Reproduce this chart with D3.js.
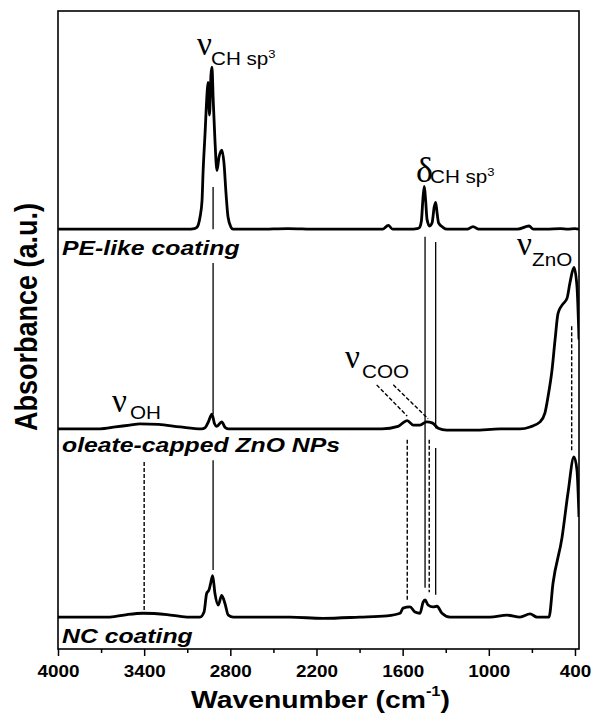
<!DOCTYPE html>
<html>
<head>
<meta charset="utf-8">
<script src="https://cdn.jsdelivr.net/npm/d3@7"></script>
<style>
  body { margin: 0; background: #fff; }
  text { font-family: "Liberation Sans", Arial, sans-serif; fill: #000; }
</style>
</head>
<body>
<svg id="ftir" width="592" height="717"></svg>
<script>
// FTIR spectra, stacked with offsets (a.u.)
var peWn  = [4000, 3800, 3600, 3400, 3200, 3100, 3050, 3032, 3011, 2997, 2990, 2976, 2962, 2955, 2945, 2935, 2928, 2919, 2907, 2893, 2879, 2858, 2844, 2830, 2816, 2795, 2781,
             2600, 2400, 2200, 2000, 1800, 1740, 1700, 1670, 1550, 1500, 1485, 1470, 1458, 1449, 1440, 1430, 1412, 1395, 1380, 1370, 1360, 1350, 1320, 1290,
             1150, 1110, 1070, 900, 800, 720, 690, 600, 500, 450, 400, 372];
var peAbs = [0, 0, 0, 0, 0, 0, 0.01, 0.03, 0.19, 0.45, 0.88, 1.50, 2.13, 2.30, 1.79, 2.41, 2.54, 2.02, 1.39, 0.92, 1.13, 1.24, 1.03, 0.56, 0.19, 0.03, 0,
             0, 0.01, 0, 0, 0, 0, 0.06, 0, 0, 0.01, 0.02, 0.12, 0.50, 0.67, 0.45, 0.15, 0.05, 0.10, 0.35, 0.42, 0.25, 0.10, 0.03, 0,
             0, 0.04, 0, 0, 0, 0.05, 0, 0, 0.01, 0, 0.01, 0];

var oleWn  = [4000, 3850, 3707, 3600, 3500, 3430, 3300, 3150, 3000, 2975, 2955, 2928, 2910, 2895, 2860, 2835, 2810,
              2500, 2200, 1900, 1744, 1632, 1600, 1568, 1526, 1479, 1433, 1391, 1352, 1294, 1100, 922,
              783, 713, 643, 609, 588, 560, 539, 518, 490, 455, 435, 407, 386, 372];
var oleAbs = [0, 0, 0, 0.03, 0.06, 0.08, 0.07, 0.03, 0, 0.02, 0.10, 0.23, 0.08, 0.04, 0.11, 0.02, 0,
              0, 0, 0, 0, 0.04, 0.09, 0.13, 0.06, 0.06, 0.11, 0.09, 0.01, -0.02, -0.02, 0,
              0, 0.03, 0.11, 0.25, 0.50, 0.92, 1.39, 1.81, 1.94, 2.05, 2.29, 2.53, 2.23, 1.40];

var ncWn  = [4000, 3800, 3638, 3520, 3408, 3241, 3102, 3011, 2983, 2965, 2948, 2937, 2923, 2907, 2884, 2860, 2837, 2814, 2779,
             2384, 2155, 1900, 1709, 1618, 1597, 1549, 1514, 1479, 1458, 1444, 1423, 1389, 1361, 1326, 1270,
             992, 873, 783, 713, 664, 581, 553, 490, 449, 407, 386, 372];
var ncAbs = [0, 0, 0, 0.04, 0.06, 0.04, 0, 0, 0.08, 0.37, 0.43, 0.53, 0.65, 0.37, 0.19, 0.34, 0.21, 0.03, 0,
             0, -0.02, 0, 0.02, 0.06, 0.14, 0.16, 0.08, 0.06, 0.23, 0.27, 0.19, 0.16, 0.17, 0.06, 0,
             0, 0.03, 0, 0.05, 0, 0, 0.53, 1.25, 1.94, 2.51, 2.30, 1.57];

var sampleNames   = ["PE-like coating", "oleate-capped ZnO NPs", "NC coating"];
var sampleOffsets = [6.58, 3.45, 0.50];
var sampleLabelY  = [6.18, 3.08, 0.10];

var majorTicks = [4000, 3400, 2800, 2200, 1600, 1000, 400];
var minorTicks = [3700, 3100, 2500, 1900, 1300, 700];

// band guide lines: wavenumber, from, to (a.u.)
var solidGuides  = [[2920, 7.24, 6.58], [2920, 6.05, 3.68], [2920, 2.96, 1.24],
                    [1444, 6.46, 0.96],
                    [1370, 6.38, 3.46], [1370, 3.15, 0.85]];
var dashedGuides = [[3400, 2.93, 0.61], [1568, 3.28, 0.77], [1415, 3.28, 0.89], [423, 5.06, 3.09]];
// slanted dashed pointers of the COO label: [wn1, y1, wn2, y2]
var cooPointers  = [[1781, 4.14, 1568, 3.65], [1665, 4.14, 1423, 3.61]];

var bandSym  = ["\u03BD", "\u03B4", "\u03BD", "\u03BD", "\u03BD"];
var bandSub  = ["CH sp", "CH sp", "ZnO", "COO", "OH"];
var bandSup  = ["3", "3", "", "", ""];
var bandWn   = [3032, 1507, 803, 2001, 3624];
var bandY    = [9.31, 7.32, 6.18, 4.40, 3.71];

var sx = 1.18;   // the reference lettering is a bit wide

var svg = d3.select("svg#ftir");
var margin = {top: 11, right: 13, bottom: 68, left: 58},
    width = +svg.attr("width") - margin.left - margin.right,
    height = +svg.attr("height") - margin.top - margin.bottom;
var g = svg.append("g").attr("transform", "translate(" + margin.left + "," + margin.top + ")");

var x = d3.scaleLinear().domain([4000, 372]).range([0, width]);
var y = d3.scaleLinear().domain([0, 10]).range([height, 0]);

g.append("clipPath").attr("id", "plotclip")
    .append("rect").attr("width", width).attr("height", height);

// guides first, spectra go over them
solidGuides.forEach(function (d) {
    g.append("line")
        .attr("x1", x(d[0])).attr("x2", x(d[0]))
        .attr("y1", y(d[1])).attr("y2", y(d[2]))
        .attr("stroke", "#000").attr("stroke-width", 1.3);
});
dashedGuides.forEach(function (d) {
    g.append("line")
        .attr("x1", x(d[0])).attr("x2", x(d[0]))
        .attr("y1", y(d[1])).attr("y2", y(d[2]))
        .attr("stroke", "#000").attr("stroke-width", 1.4)
        .attr("stroke-dasharray", "4,2");
});
cooPointers.forEach(function (d) {
    g.append("line")
        .attr("x1", x(d[0])).attr("y1", y(d[1]))
        .attr("x2", x(d[2])).attr("y2", y(d[3]))
        .attr("stroke", "#000").attr("stroke-width", 1.4)
        .attr("stroke-dasharray", "4,2");
});

var line = d3.line()
    .x(function (d) { return x(d[0]); })
    .y(function (d) { return y(d[1]); })
    .curve(d3.curveMonotoneX);

function spectrum(wn, abs, off) {
    var pts = wn.map(function (w, i) { return [w, abs[i] + off]; });
    g.append("path")
        .datum(pts)
        .attr("clip-path", "url(#plotclip)")
        .attr("fill", "none")
        .attr("stroke", "#000")
        .attr("stroke-width", 2.8)
        .attr("stroke-linejoin", "round")
        .attr("d", line);
}
spectrum(peWn, peAbs, sampleOffsets[0]);
spectrum(oleWn, oleAbs, sampleOffsets[1]);
spectrum(ncWn, ncAbs, sampleOffsets[2]);

// frame
g.append("rect")
    .attr("width", width).attr("height", height)
    .attr("fill", "none").attr("stroke", "#000").attr("stroke-width", 1.6);

// bottom axis
var ax = g.append("g")
    .attr("transform", "translate(0," + height + ")")
    .call(d3.axisBottom(x).tickValues(majorTicks).tickSize(7).tickFormat(d3.format("d")));
ax.select(".domain").remove();
ax.selectAll("line").attr("stroke-width", 1.5);
ax.selectAll("text")
    .attr("y", 28).attr("dy", null)
    .attr("transform", "scale(" + sx + ",1)")
    .style("font-family", "'Liberation Sans', Arial, sans-serif")
    .style("font-size", "16px")
    .style("font-weight", "bold");

var axm = g.append("g")
    .attr("transform", "translate(0," + height + ")")
    .call(d3.axisBottom(x).tickValues(minorTicks).tickSize(4).tickFormat(""));
axm.select(".domain").remove();
axm.selectAll("line").attr("stroke-width", 1.5);

// sample names
sampleNames.forEach(function (name, i) {
    g.append("text")
        .attr("transform", "translate(" + x(3972) + "," + y(sampleLabelY[i]) + ") scale(" + sx + ",1)")
        .style("font-size", "21px")
        .style("font-weight", "bold")
        .style("font-style", "italic")
        .text(name);
});

// band labels
var subDx = [14, 14, 15, 17, 18],
    subDy = [10, 1, 11, 10, 7];
bandSym.forEach(function (s, i) {
    var px = x(bandWn[i]), py = y(bandY[i]);
    g.append("text")
        .attr("x", px).attr("y", py)
        .style("font-family", "'Liberation Serif', 'Times New Roman', serif")
        .style("font-size", s === "\u03B4" ? "36px" : "33px")
        .text(s);
    var t = g.append("text")
        .attr("transform", "translate(" + (px + subDx[i]) + "," + (py + subDy[i]) + ") scale(" + sx + ",1)")
        .style("font-size", "17.5px")
        .text(bandSub[i]);
    if (bandSup[i]) {
        t.append("tspan").attr("dy", -7).style("font-size", "11px").text(bandSup[i]);
    }
});

// axis titles
var xt = svg.append("text")
    .attr("transform", "translate(" + (margin.left + width / 2 + 2) + ",708) scale(" + sx + ",1)")
    .attr("text-anchor", "middle")
    .style("font-size", "24px")
    .style("font-weight", "bold")
    .text("Wavenumber (cm");
xt.append("tspan").attr("dy", -12).style("font-size", "14px").text("-1");
xt.append("tspan").attr("dy", 12).text(")");

svg.append("text")
    .attr("transform", "translate(37," + (margin.top + 306) + ") scale(" + sx + ",1) rotate(-90)")
    .attr("text-anchor", "middle")
    .style("font-size", "27px")
    .style("font-weight", "bold")
    .text("Absorbance (a.u.)");
</script>
</body>
</html>
